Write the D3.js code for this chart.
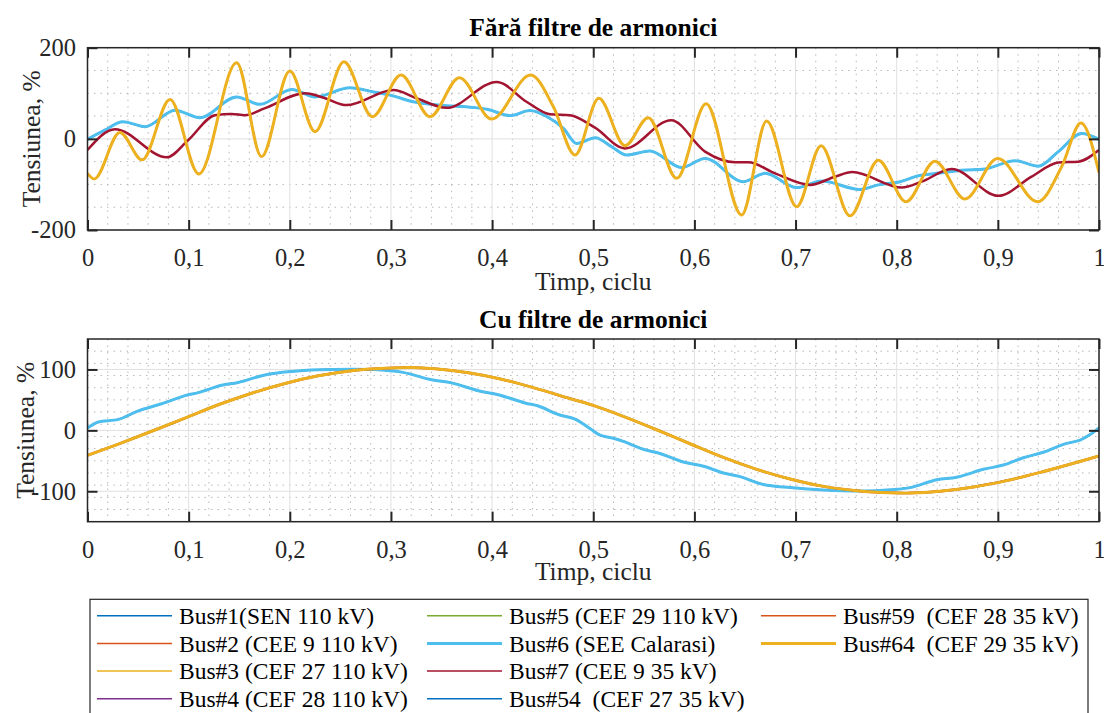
<!doctype html>
<html>
<head>
<meta charset="utf-8">
<style>
  body { margin: 0; background: #fff; }
  svg { display: block; font-family: "Liberation Serif", "Times New Roman", serif; }
  text { white-space: pre; }
</style>
<script src="https://d3js.org/d3.v7.min.js"></script>
</head>
<body>
<svg width="1104" height="713"></svg>
<script>
// ---- data: [time in cycles, voltage %] ----
// top panel (no harmonic filters)
var topGroupA = [ // Bus#1..#6 (the light blue wave covers #1-#5)
  [0,-1],[0.017,19],[0.035,37.6],[0.057,26.7],[0.0865,63],[0.111,46.4],[0.1475,92],[0.1705,75.7],
  [0.202,108.5],[0.225,92],[0.2595,112],[0.283,103],[0.299,96],[0.322,81.5],[0.3485,74],[0.3815,69],
  [0.395,65],[0.418,51],[0.4375,62],[0.454,49],[0.4705,23],[0.4836,-10],[0.502,2.6],[0.518,-17],
  [0.533,-35.5],[0.556,-26.7],[0.5874,-63],[0.6105,-43],[0.6484,-94],[0.6698,-75.7],[0.7011,-107],
  [0.7258,-92.5],[0.7637,-111],[0.7818,-101],[0.8033,-94],[0.8214,-81],[0.8412,-75.7],[0.8642,-69],
  [0.8873,-66],[0.917,-48],[0.94,-60],[0.9598,-28],[0.9829,12],[1,-1]
];
var topBus7 = [
  [0,-24.5],[0.0272,21],[0.0783,-40.5],[0.0997,-2.5],[0.126,52],[0.1425,54.5],[0.1557,52],[0.175,67],
  [0.215,100],[0.235,89],[0.256,74],[0.3024,107],[0.3254,89],[0.355,68],[0.4045,125],[0.434,81.5],
  [0.4572,54],[0.477,52],[0.5017,24.5],[0.5314,-21],[0.577,41],[0.6105,-28],[0.6402,-51.5],[0.6534,-51.5],
  [0.6798,-75.7],[0.7143,-101],[0.739,-83],[0.756,-73],[0.805,-107],[0.8247,-94],[0.8543,-66],
  [0.9005,-125],[0.9334,-83],[0.9598,-52],[0.9796,-50],[1,-24.5]
];
var topGroupB = [ // Bus#54, #59, #64
  [0,-75.7],[0.0066,-88],[0.032,14],[0.054,-46],[0.0816,86.6],[0.11,-77],[0.1475,167],[0.172,-39],
  [0.2,149],[0.225,15.7],[0.2535,169],[0.2816,48.6],[0.31,140],[0.3386,48.6],[0.3676,134],[0.3996,43.5],
  [0.4381,140],[0.4606,70.5],[0.482,-35.5],[0.5055,89],[0.5314,-15],[0.5544,46.4],[0.5825,-86.6],
  [0.6115,77],[0.6467,-167],[0.6714,39],[0.7011,-149],[0.7252,-15],[0.7539,-169],[0.7818,-47],
  [0.8092,-138],[0.8378,-49],[0.8675,-132],[0.8998,-43],[0.9394,-138],[0.9631,-61],[0.9822,35],[1,-74]
];
// bottom panel (with harmonic filters)
var botGroupA = [ // Bus#1..#6
  [0,3.8],[0.0107,13.7],[0.0305,18],[0.0503,32],[0.0733,43.7],[0.0964,57],[0.1096,62],[0.1326,74],
  [0.149,78.7],[0.1755,91],[0.2018,96.7],[0.2282,99.5],[0.2611,100.5],[0.2809,100],[0.3106,95.6],
  [0.3402,83],[0.36,78],[0.3864,65],[0.4061,58.5],[0.4325,45],[0.4457,40],[0.4655,26],[0.4819,18.6],
  [0.4968,3],[0.5067,-8],[0.5197,-13],[0.5297,-18],[0.5495,-31],[0.566,-38],[0.589,-52],[0.609,-59],
  [0.6286,-70],[0.6451,-76],[0.6682,-89],[0.6946,-94],[0.7276,-98],[0.7672,-99.6],[0.7935,-97.5],
  [0.8133,-94],[0.8396,-81],[0.8594,-77],[0.8858,-64],[0.9055,-57],[0.9252,-45],[0.945,-36],
  [0.9648,-23],[0.9813,-16],[0.9912,-7],[1,4]
];
var botGroupB = [ // Bus#7, #54, #59, #64
  [0,-41],[0.0305,-22.5],[0.0634,-1.5],[0.0964,20],[0.1293,42],[0.1623,61],[0.1953,77],[0.2282,89.5],
  [0.2611,98],[0.294,102],[0.3205,103],[0.3435,101],[0.3765,94.5],[0.4094,84],[0.4424,69.4],[0.4754,53],
  [0.5,41],[0.5297,23],[0.5627,1],[0.5957,-22],[0.6286,-44.5],[0.6616,-64],[0.6946,-80],[0.7276,-92],
  [0.7606,-99],[0.7935,-102.5],[0.8133,-103],[0.843,-100],[0.876,-93],[0.9089,-82.5],[0.9419,-69],
  [0.9748,-54],[1,-42]
];

var busNames = ["Bus#1(SEN 110 kV)", "Bus#2 (CEE 9 110 kV)", "Bus#3 (CEF 27 110 kV)", "Bus#4 (CEF 28 110 kV)",
  "Bus#5 (CEF 29 110 kV)", "Bus#6 (SEE Calarasi)", "Bus#7 (CEE 9 35 kV)", "Bus#54  (CEF 27 35 kV)",
  "Bus#59  (CEF 28 35 kV)", "Bus#64  (CEF 29 35 kV)"];
var busColors = ["#0072BD", "#D95319", "#EDB120", "#7E2F8E", "#77AC30", "#4DBEEE", "#A2142F", "#0072BD", "#D95319", "#EDB120"];
var busWidths = [1.5, 1.5, 1.5, 1.5, 1.5, 3, 2.5, 1.5, 1.5, 3];
var topSeries = [topGroupA, topGroupA, topGroupA, topGroupA, topGroupA, topGroupA, topBus7, topGroupB, topGroupB, topGroupB];
var botSeries = [botGroupA, botGroupA, botGroupA, botGroupA, botGroupA, botGroupA, botGroupB, botGroupB, botGroupB, botGroupB];

var xTicks = [0, 0.1, 0.2, 0.3, 0.4, 0.5, 0.6, 0.7, 0.8, 0.9, 1];
var topYTicks = [-200, 0, 200];
var botYTicks = [-100, 0, 100];

var svg = d3.select("svg");
var left = 87.5, right = 1099;
var ink = "#262626";
var fmt = function(d) { return String(d).replace(".", ","); };

function panel(opts) {
  var x = d3.scaleLinear().domain([0, 1]).range([left, right]);
  var y = d3.scaleLinear().domain(opts.yDomain).range([opts.bottom, opts.top]);
  var g = svg.append("g");
  var clipId = "clip" + opts.id;
  svg.append("clipPath").attr("id", clipId).append("rect")
     .attr("x", left).attr("y", opts.top).attr("width", right - left).attr("height", opts.bottom - opts.top);

  // minor grid (dotted)
  var xMinor = d3.range(0, 1.0001, 0.02).filter(function(v) { return Math.abs(v * 10 - Math.round(v * 10)) > 1e-6; });
  var yMinor = d3.range(opts.yDomain[0], opts.yDomain[1] + 0.001, opts.minorStep).filter(function(v) {
    return opts.yTicks.indexOf(v) < 0 && v > opts.yDomain[0] && v < opts.yDomain[1]; });
  g.selectAll(".xminor").data(xMinor).enter().append("line")
   .attr("x1", x).attr("x2", x).attr("y1", opts.top).attr("y2", opts.bottom)
   .attr("stroke", "#b8b8b8").attr("stroke-width", 1).attr("stroke-dasharray", "1.5,5");
  g.selectAll(".yminor").data(yMinor).enter().append("line")
   .attr("x1", left).attr("x2", right).attr("y1", y).attr("y2", y)
   .attr("stroke", "#b8b8b8").attr("stroke-width", 1).attr("stroke-dasharray", "1.5,5");
  // major grid
  g.selectAll(".xmajor").data(xTicks).enter().append("line")
   .attr("x1", x).attr("x2", x).attr("y1", opts.top).attr("y2", opts.bottom)
   .attr("stroke", "#e0e0e0").attr("stroke-width", 1);
  g.selectAll(".ymajor").data(opts.yTicks).enter().append("line")
   .attr("x1", left).attr("x2", right).attr("y1", y).attr("y2", y)
   .attr("stroke", "#e0e0e0").attr("stroke-width", 1);

  // series
  var line = d3.line().x(function(d) { return x(d[0]); }).y(function(d) { return y(d[1]); }).curve(opts.curve);
  g.append("g").attr("clip-path", "url(#" + clipId + ")")
   .selectAll("path").data(opts.series).enter().append("path")
   .attr("d", line).attr("fill", "none")
   .attr("stroke", function(d, i) { return busColors[i]; })
   .attr("stroke-width", function(d, i) { return busWidths[i]; })
   .attr("stroke-linejoin", "round");

  // axes, ticks point inward
  var ax = g.append("g").attr("transform", "translate(0," + opts.bottom + ")")
   .call(d3.axisBottom(x).tickValues(xTicks).tickSizeInner(-10).tickSizeOuter(0).tickPadding(18.5).tickFormat(fmt));
  var axTop = g.append("g").attr("transform", "translate(0," + opts.top + ")")
   .call(d3.axisTop(x).tickValues(xTicks).tickSizeInner(-10).tickSizeOuter(0).tickFormat(""));
  var ay = g.append("g").attr("transform", "translate(" + left + ",0)")
   .call(d3.axisLeft(y).tickValues(opts.yTicks).tickSizeInner(-10).tickSizeOuter(0).tickPadding(11.5).tickFormat(fmt));
  var ayR = g.append("g").attr("transform", "translate(" + right + ",0)")
   .call(d3.axisRight(y).tickValues(opts.yTicks).tickSizeInner(-10).tickSizeOuter(0).tickFormat(""));
  [ax, axTop, ay, ayR].forEach(function(a) {
    a.select(".domain").remove();
    a.selectAll(".tick line").attr("stroke", ink).attr("stroke-width", 2);
    a.selectAll(".tick text").attr("font-size", 24.5).attr("font-family", "Liberation Serif").attr("fill", ink);
  });
  g.append("rect").attr("x", left).attr("y", opts.top).attr("width", right - left).attr("height", opts.bottom - opts.top)
   .attr("fill", "none").attr("stroke", ink).attr("stroke-width", 1.5);

  // title and labels
  g.append("text").attr("x", (left + right) / 2).attr("y", opts.top - 11.5)
   .attr("text-anchor", "middle").attr("font-size", 25.5).attr("font-weight", "bold").attr("fill", "#000")
   .text(opts.title);
  g.append("text").attr("x", (left + right) / 2).attr("y", opts.bottom + opts.xlabGap)
   .attr("text-anchor", "middle").attr("font-size", 25.5).attr("fill", ink)
   .text("Timp, ciclu");
  g.append("text").attr("transform", "translate(" + opts.ylabX + "," + (opts.top + opts.bottom) / 2 + ") rotate(-90)")
   .attr("text-anchor", "middle").attr("font-size", 25.5).attr("fill", ink)
   .text("Tensiunea, %");
}

panel({ id: 1, top: 47.7, bottom: 230, yDomain: [-200, 200], yTicks: topYTicks, minorStep: 50,
        series: topSeries, curve: d3.curveMonotoneX, title: "Fără filtre de armonici", xlabGap: 60, ylabX: 40 });
panel({ id: 2, top: 339, bottom: 521.7, yDomain: [-150, 150], yTicks: botYTicks, minorStep: 20,
        series: botSeries, curve: d3.curveCatmullRom.alpha(0.5), title: "Cu filtre de armonici", xlabGap: 58, ylabX: 34 });

// legend (4 rows, filled column by column; box runs past the bottom edge)
var leg = svg.append("g");
leg.append("rect").attr("x", 90).attr("y", 599.3).attr("width", 998).attr("height", 130)
   .attr("fill", "#fff").attr("stroke", ink).attr("stroke-width", 1.2);
var colX = [97, 427, 761];
busNames.forEach(function(name, i) {
  var c = Math.floor(i / 4), r = i % 4;
  var yy = 615.7 + r * 27.7;
  leg.append("line").attr("x1", colX[c]).attr("x2", colX[c] + 75).attr("y1", yy).attr("y2", yy)
     .attr("stroke", busColors[i]).attr("stroke-width", busWidths[i] > 2.5 ? 3 : 1.5);
  leg.append("text").attr("x", colX[c] + 82).attr("y", yy).attr("dy", "0.35em")
     .attr("font-size", 23.5).attr("fill", "#000").text(name);
});
</script>
</body>
</html>
